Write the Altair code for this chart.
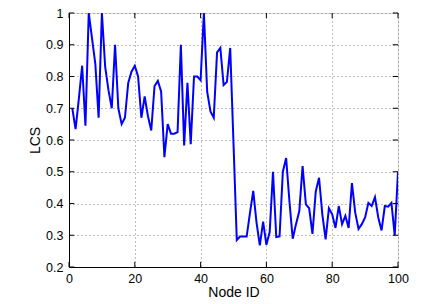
import altair as alt
import pandas as pd

node_ids = list(range(1, 101))
lcs_values = [
    0.70, 0.634, 0.73, 0.834, 0.645, 1.0, 0.92, 0.84, 0.67, 1.0,
    0.83, 0.757, 0.70, 0.90, 0.70, 0.65, 0.67, 0.78, 0.815, 0.834,
    0.80, 0.67, 0.737, 0.675, 0.63, 0.77, 0.786, 0.753, 0.546, 0.65,
    0.62, 0.62, 0.625, 0.90, 0.583, 0.78, 0.587, 0.80, 0.80, 0.788,
    1.0, 0.752, 0.69, 0.67, 0.876, 0.89, 0.773, 0.783, 0.89, 0.59,
    0.285, 0.296, 0.296, 0.296, 0.37, 0.44, 0.34, 0.268, 0.343, 0.27,
    0.31, 0.50, 0.294, 0.296, 0.50, 0.543, 0.407, 0.289, 0.335, 0.376,
    0.518, 0.397, 0.385, 0.304, 0.438, 0.481, 0.366, 0.287, 0.385, 0.366,
    0.323, 0.392, 0.335, 0.361, 0.323, 0.464, 0.371, 0.32, 0.335, 0.356,
    0.402, 0.392, 0.42, 0.356, 0.315, 0.392, 0.39, 0.402, 0.30, 0.50,
]
x_ticks = [0, 20, 40, 60, 80, 100]
y_ticks = [0.2, 0.3, 0.4, 0.5, 0.6, 0.7, 0.8, 0.9, 1.0]

df = pd.DataFrame({"node": node_ids, "lcs": lcs_values})
xt = pd.DataFrame({"t": x_ticks})
yt = pd.DataFrame({"t": y_ticks})

FONT = "Liberation Sans"
xscale = alt.Scale(domain=[0, 100], nice=False, zero=False)
yscale = alt.Scale(domain=[0.2, 1.0], nice=False, zero=False)

x_axis = alt.Axis(
    values=x_ticks, title="Node ID", labelFont=FONT, titleFont=FONT,
    labelFontSize=12.5, titleFontSize=14, titleFontWeight="normal",
    labelColor="black", titleColor="black", ticks=False, labelPadding=5,
    titlePadding=1, grid=True, gridDash=[1, 3], gridColor="#444",
    gridOpacity=0.7, domainColor="black", labelFlush=False,
    labelOverlap=False,
)
y_axis = alt.Axis(
    values=y_ticks, title="LCS", labelFont=FONT, titleFont=FONT,
    labelFontSize=12.5, titleFontSize=14, titleFontWeight="normal",
    labelColor="black", titleColor="black", ticks=False, labelPadding=6,
    titlePadding=3, grid=True, gridDash=[1, 3], gridColor="#444",
    gridOpacity=0.7, domainColor="black", labelOverlap=False,
    labelExpr="datum.value == 1 ? '1' : format(datum.value, '.1f')",
)

line = alt.Chart(df).mark_line(color="#0000ff", strokeWidth=2, clip=True).encode(
    x=alt.X("node:Q", scale=xscale, axis=x_axis),
    y=alt.Y("lcs:Q", scale=yscale, axis=y_axis),
)

xb = alt.Chart(xt).mark_rule(color="black", strokeWidth=1).encode(
    x=alt.X("t:Q", scale=xscale, axis=x_axis),
    y=alt.YDatum(0.2, scale=yscale, axis=y_axis), y2=alt.datum(0.2 + 0.016)
)
xtop = alt.Chart(xt).mark_rule(color="black", strokeWidth=1).encode(
    x=alt.X("t:Q", scale=xscale, axis=x_axis),
    y=alt.YDatum(1.0, scale=yscale, axis=y_axis), y2=alt.datum(1.0 - 0.016)
)
yl = alt.Chart(yt).mark_rule(color="black", strokeWidth=1).encode(
    y=alt.Y("t:Q", scale=yscale, axis=y_axis),
    x=alt.XDatum(0, scale=xscale, axis=x_axis), x2=alt.datum(1.6)
)
yr = alt.Chart(yt).mark_rule(color="black", strokeWidth=1).encode(
    y=alt.Y("t:Q", scale=yscale, axis=y_axis),
    x=alt.XDatum(100, scale=xscale, axis=x_axis), x2=alt.datum(100 - 1.6)
)

chart = alt.layer(line, xb, xtop, yl, yr).properties(
    width=329, height=254,
    autosize=alt.AutoSizeParams(type="none"),
    padding={"left": 61, "top": 5, "right": 20, "bottom": 37},
).configure_view(stroke="black", strokeWidth=1.2).configure(background="white")

chart.save("out.html", embed_options={"renderer": "svg", "actions": False})
